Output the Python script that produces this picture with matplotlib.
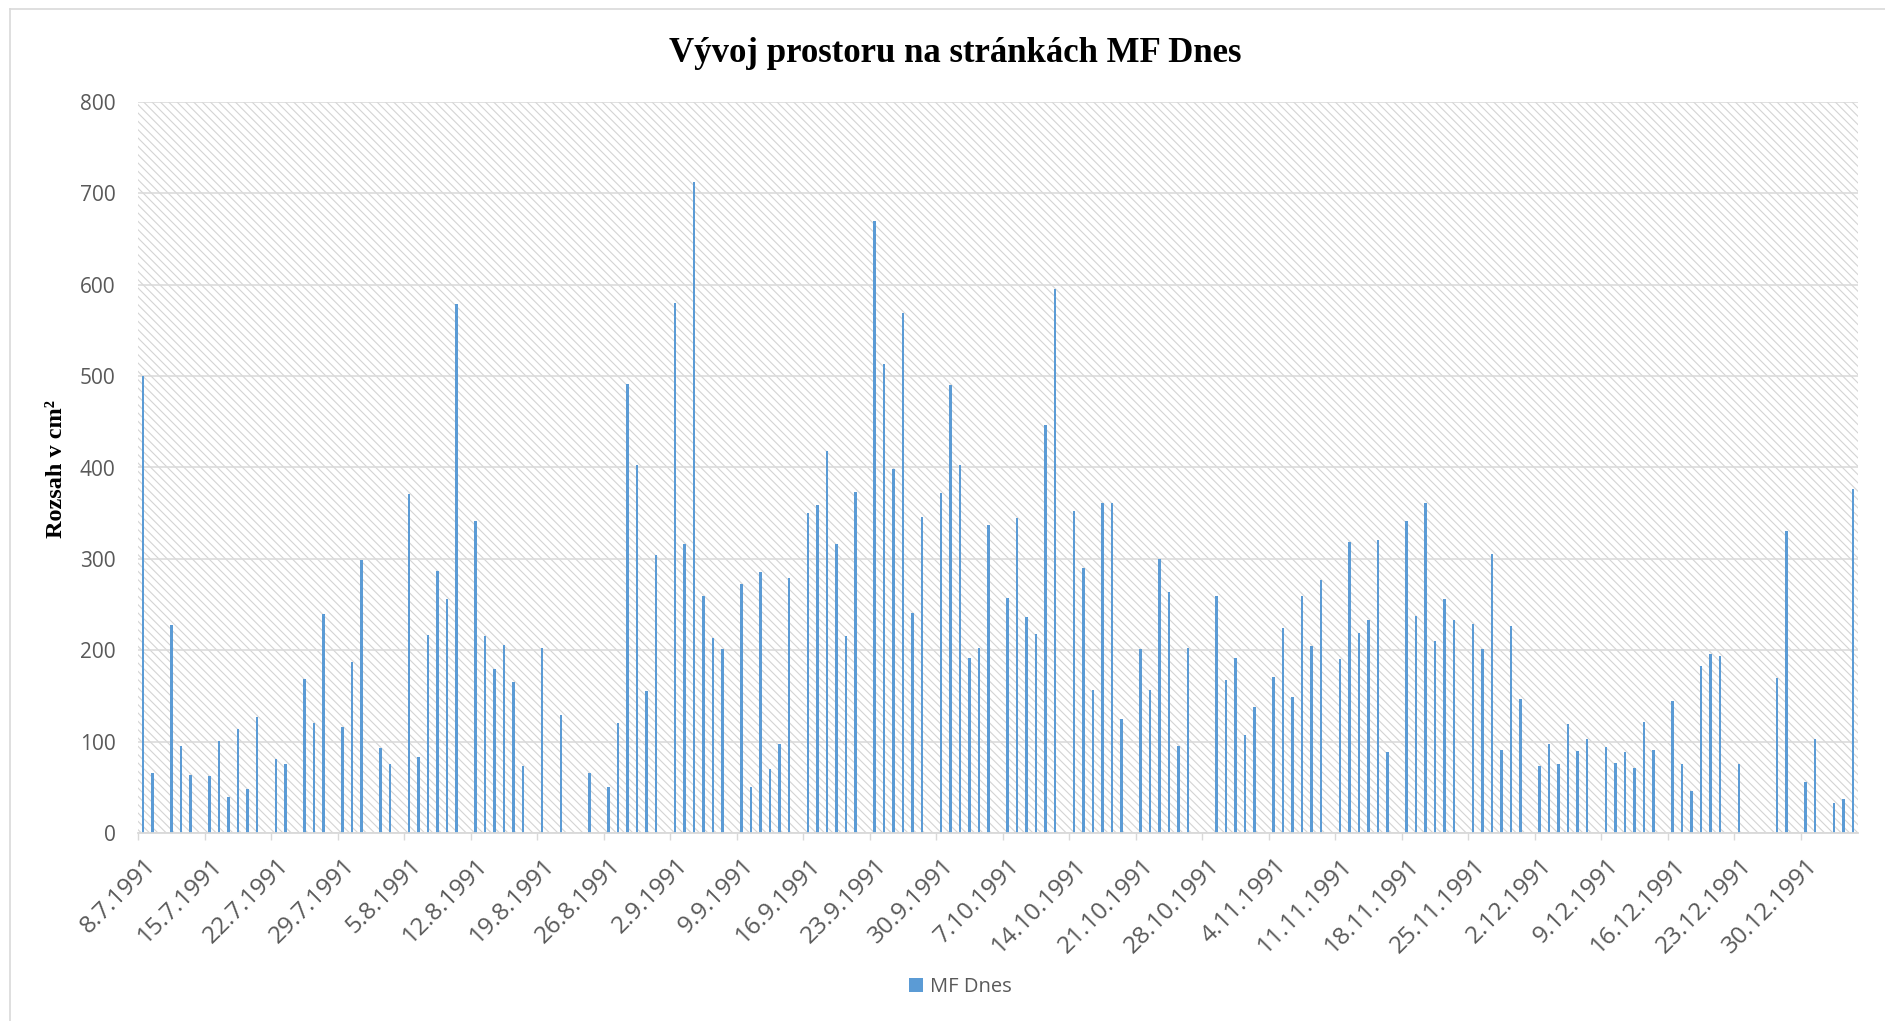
import matplotlib
matplotlib.use("Agg")
import matplotlib.pyplot as plt
import matplotlib.transforms as mtransforms
from matplotlib.patches import Rectangle
from matplotlib.lines import Line2D
from datetime import datetime

# ---------------- data ----------------
dates = [
    "8.7.1991", "9.7.1991", "11.7.1991", "12.7.1991", "13.7.1991", "15.7.1991",
    "16.7.1991", "17.7.1991", "18.7.1991", "19.7.1991", "20.7.1991", "22.7.1991",
    "23.7.1991", "25.7.1991", "26.7.1991", "27.7.1991", "29.7.1991", "30.7.1991",
    "31.7.1991", "2.8.1991", "3.8.1991", "5.8.1991", "6.8.1991", "7.8.1991",
    "8.8.1991", "9.8.1991", "10.8.1991", "12.8.1991", "13.8.1991", "14.8.1991",
    "15.8.1991", "16.8.1991", "17.8.1991", "19.8.1991", "21.8.1991", "24.8.1991",
    "26.8.1991", "27.8.1991", "28.8.1991", "29.8.1991", "30.8.1991", "31.8.1991",
    "2.9.1991", "3.9.1991", "4.9.1991", "5.9.1991", "6.9.1991", "7.9.1991",
    "9.9.1991", "10.9.1991", "11.9.1991", "12.9.1991", "13.9.1991", "14.9.1991",
    "16.9.1991", "17.9.1991", "18.9.1991", "19.9.1991", "20.9.1991", "21.9.1991",
    "23.9.1991", "24.9.1991", "25.9.1991", "26.9.1991", "27.9.1991", "28.9.1991",
    "30.9.1991", "1.10.1991", "2.10.1991", "3.10.1991", "4.10.1991", "5.10.1991",
    "7.10.1991", "8.10.1991", "9.10.1991", "10.10.1991", "11.10.1991", "12.10.1991",
    "14.10.1991", "15.10.1991", "16.10.1991", "17.10.1991", "18.10.1991", "19.10.1991",
    "21.10.1991", "22.10.1991", "23.10.1991", "24.10.1991", "25.10.1991", "26.10.1991",
    "29.10.1991", "30.10.1991", "31.10.1991", "1.11.1991", "2.11.1991",
    "4.11.1991", "5.11.1991", "6.11.1991", "7.11.1991", "8.11.1991", "9.11.1991",
    "11.11.1991", "12.11.1991", "13.11.1991", "14.11.1991", "15.11.1991", "16.11.1991",
    "18.11.1991", "19.11.1991", "20.11.1991", "21.11.1991", "22.11.1991", "23.11.1991",
    "25.11.1991", "26.11.1991", "27.11.1991", "28.11.1991", "29.11.1991", "30.11.1991",
    "2.12.1991", "3.12.1991", "4.12.1991", "5.12.1991", "6.12.1991", "7.12.1991",
    "9.12.1991", "10.12.1991", "11.12.1991", "12.12.1991", "13.12.1991", "14.12.1991",
    "16.12.1991", "17.12.1991", "18.12.1991", "19.12.1991", "20.12.1991", "21.12.1991",
    "23.12.1991", "27.12.1991", "28.12.1991", "30.12.1991", "31.12.1991",
    "2.1.1992", "3.1.1992", "4.1.1992",
]
values = [
    500, 66, 228, 95, 64, 62,
    101, 39, 114, 48, 127, 81,
    75, 169, 120, 240, 116, 187,
    299, 93, 75, 371, 83, 217,
    287, 256, 579, 341, 216, 180,
    206, 165, 73, 202, 129, 66,
    50, 120, 491, 403, 155, 304,
    580, 316, 712, 259, 213, 201,
    273, 50, 286, 70, 97, 279,
    350, 359, 418, 316, 216, 373,
    670, 513, 398, 569, 241, 346,
    372, 490, 403, 192, 202, 337,
    257, 345, 236, 218, 446, 595,
    352, 290, 157, 361, 361, 125,
    201, 157, 300, 264, 95, 203,
    259, 167, 192, 107, 138,
    171, 224, 149, 259, 205, 277,
    190, 318, 219, 233, 321, 89,
    341, 238, 361, 210, 256, 233,
    229, 201, 305, 91, 226, 147,
    73, 97, 76, 119, 90, 103,
    94, 77, 89, 71, 122, 91,
    145, 76, 46, 183, 196, 194,
    76, 170, 331, 56, 103,
    33, 37, 376,
]
tick_labels = [
    "8.7.1991", "15.7.1991", "22.7.1991", "29.7.1991", "5.8.1991", "12.8.1991",
    "19.8.1991", "26.8.1991", "2.9.1991", "9.9.1991", "16.9.1991", "23.9.1991",
    "30.9.1991", "7.10.1991", "14.10.1991", "21.10.1991", "28.10.1991", "4.11.1991",
    "11.11.1991", "18.11.1991", "25.11.1991", "2.12.1991", "9.12.1991", "16.12.1991",
    "23.12.1991", "30.12.1991",
]
axis_start = "8.7.1991"
axis_end = "4.1.1992"
series_name = "MF Dnes"
title = "Vývoj prostoru na stránkách MF Dnes"
ylabel = "Rozsah v cm²"
y_ticks = [0, 100, 200, 300, 400, 500, 600, 700, 800]

# ---------------- helpers ----------------
def parse(s):
    return datetime.strptime(s, "%d.%m.%Y")

d0 = parse(axis_start)
x = [(parse(s) - d0).days for s in dates]
tick_pos = [(parse(s) - d0).days - 0.5 for s in tick_labels]
x_end = (parse(axis_end) - d0).days + 0.5

# ---------------- figure ----------------
W, H, DPI = 1885, 1021, 100
fig = plt.figure(figsize=(W / DPI, H / DPI), dpi=DPI)
fig.patch.set_facecolor("white")

L, R, T, B = 138.3, 1857.7, 102, 833
ax = fig.add_axes([L / W, 1 - B / H, (R - L) / W, (B - T) / H])

plt.rcParams["hatch.linewidth"] = 0.8
grid_c = "#d9d9d9"
text_c = "#595959"
bar_c = "#5b9bd5"

# hatched plot background
ax.patch.set_visible(False)
ax.add_patch(Rectangle((0, 0), 1, 1, transform=ax.transAxes, facecolor="white",
                       edgecolor="#d4d4d4", hatch="\\\\\\\\", linewidth=0, zorder=0.1))

ax.bar(x, values, width=0.3, color=bar_c, label=series_name, zorder=2)

ax.set_xlim(-0.5, x_end)
ax.set_ylim(0, 800)
ax.set_yticks(y_ticks)
ax.set_axisbelow(True)
ax.yaxis.grid(True, color=grid_c, linewidth=1.1, zorder=0.5)
ax.xaxis.grid(False)

for s in ["left", "right", "top"]:
    ax.spines[s].set_visible(False)
ax.spines["bottom"].set_color(grid_c)
ax.spines["bottom"].set_linewidth(1.3)
ax.spines["bottom"].set_zorder(3)

ax.tick_params(axis="y", length=0, pad=16.5, labelsize=15, labelcolor=text_c)
ax.tick_params(axis="x", length=5, width=1.0, color=grid_c, pad=16,
               labelsize=17.5, labelcolor=text_c)
for lab in ax.get_yticklabels():
    lab.set_fontfamily("Open Sans")

ax.set_xticks(tick_pos)
ax.set_xticklabels(tick_labels, rotation=45, ha="right", va="center",
                   rotation_mode="anchor", fontfamily="Open Sans")
shift = mtransforms.ScaledTranslation(14 / DPI, 0, fig.dpi_scale_trans)
for lab in ax.get_xticklabels():
    lab.set_transform(lab.get_transform() + shift)

# title and axis title
fig.text(955 / W, 1 - 62 / H, title, ha="center", va="baseline",
         fontsize=25, fontweight="bold", family="Liberation Serif", color="black")
fig.text(57 / W, 1 - 469 / H, ylabel, ha="center", va="center", rotation=90,
         fontsize=17.5, fontweight="bold", family="Liberation Serif", color="black")

# legend
leg = fig.legend(loc="center", bbox_to_anchor=(960 / W, 1 - 987 / H), frameon=False,
                 handlelength=0.7, handleheight=0.7, handletextpad=0.35,
                 prop={"family": "Open Sans", "size": 14.5})
for t in leg.get_texts():
    t.set_color(text_c)

# chart area border (top and left visible)
fig.add_artist(Line2D([10 / W, 10 / W], [0, 1 - 9 / H], transform=fig.transFigure,
                      color=grid_c, linewidth=1.2))
fig.add_artist(Line2D([10 / W, 1], [1 - 9 / H, 1 - 9 / H], transform=fig.transFigure,
                      color=grid_c, linewidth=1.2))

fig.savefig("out.png", dpi=DPI, facecolor="white")
